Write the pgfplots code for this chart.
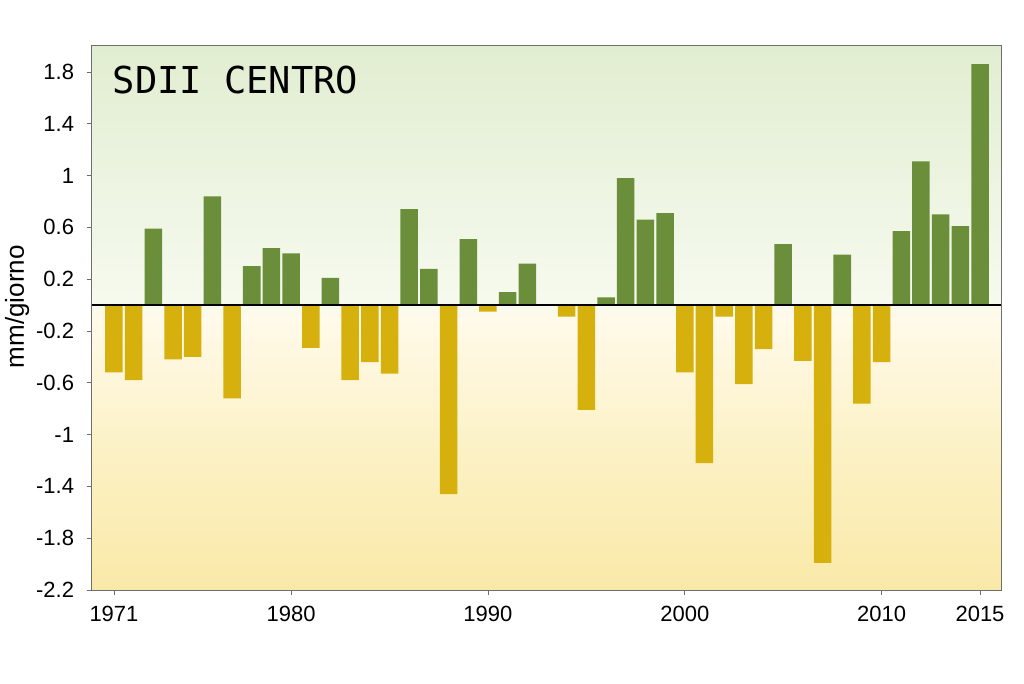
\documentclass[border=0pt]{standalone}
\usepackage{fontspec}
\setmainfont{Liberation Sans}
\newfontfamily\monofont{DejaVu Sans Mono}
\usepackage{pgfplots}
\pgfplotsset{compat=1.18}
\definecolor{barpos}{RGB}{107,142,58}
\definecolor{barneg}{RGB}{214,176,12}
\definecolor{bgtop}{RGB}{225,237,208}
\definecolor{bghigh}{RGB}{236,244,225}
\definecolor{bgmidt}{RGB}{246,250,238}
\definecolor{bgmid}{RGB}{255,250,234}
\definecolor{bglow}{RGB}{252,241,196}
\definecolor{bgbot}{RGB}{249,233,168}
\definecolor{framegray}{RGB}{110,110,110}
\pgfdeclareverticalshading{bgshade}{100bp}{color(0bp)=(bgbot); color(25bp)=(bgbot); color(37.5bp)=(bglow); color(50bp)=(bgmid); color(51.5bp)=(bgmidt); color(63bp)=(bghigh); color(75bp)=(bgtop); color(100bp)=(bgtop)}
\pgfplotstableread{
year pos
1973 0.59
1976 0.84
1978 0.30
1979 0.44
1980 0.40
1982 0.21
1986 0.74
1987 0.28
1989 0.51
1991 0.10
1992 0.32
1996 0.06
1997 0.98
1998 0.66
1999 0.71
2005 0.47
2008 0.39
2011 0.57
2012 1.11
2013 0.70
2014 0.61
2015 1.86
}\postable
\pgfplotstableread{
year neg
1971 -0.52
1972 -0.58
1974 -0.42
1975 -0.40
1977 -0.72
1981 -0.33
1983 -0.58
1984 -0.44
1985 -0.53
1988 -1.46
1990 -0.05
1994 -0.09
1995 -0.81
2000 -0.52
2001 -1.22
2002 -0.09
2003 -0.61
2004 -0.34
2006 -0.43
2007 -1.99
2009 -0.76
2010 -0.44
}\negtable
\begin{document}
\begin{tikzpicture}
\begin{axis}[
  at={(0,0)}, anchor=south west,
  scale only axis, width=682pt, height=408.75pt,
  xmin=1969.87, xmax=2016.07, ymin=-2.2, ymax=2.008,
  axis background/.style={shading=bgshade},
  xtick={1971,1980,1990,2000,2010,2015},
  xticklabels={1971,1980,1990,2000,2010,2015},
  ytick={-2.2,-1.8,-1.4,-1,-0.6,-0.2,0.2,0.6,1,1.4,1.8},
  yticklabels={-2.2,-1.8,-1.4,-1,-0.6,-0.2,0.2,0.6,1,1.4,1.8},
  tick align=outside, tick pos=left,
  major tick length=3.75pt,
  axis line style={framegray, line width=0.6pt},
  tick style={framegray, line width=0.6pt},
  ticklabel style={font=\fontsize{16.5}{19}\selectfont, black},
  yticklabel style={xshift=-6pt},
  xticklabel style={yshift=-4.5pt},
  clip=false,
]
\addplot[ybar, bar width=0.89, bar shift=0pt, fill=barpos, draw=none] table[x=year,y=pos] {\postable};
\addplot[ybar, bar width=0.89, bar shift=0pt, fill=barneg, draw=none] table[x=year,y=neg] {\negtable};
\addplot[black, line width=1.1pt] coordinates {(1969.87,0) (2016.07,0)};
\node[anchor=base west, font=\monofont\fontsize{27.8}{31}\selectfont, xshift=12.2pt, yshift=-36pt] at (rel axis cs:0,1) {SDII CENTRO};
\node[rotate=90, anchor=base, font=\fontsize{19.5}{22}\selectfont] at ([xshift=-50.8pt]rel axis cs:0,0.52) {mm/giorno};
\end{axis}
\path (-68.8pt,-69.75pt) rectangle (699.2pt,442.5pt);
\end{tikzpicture}
\end{document}
